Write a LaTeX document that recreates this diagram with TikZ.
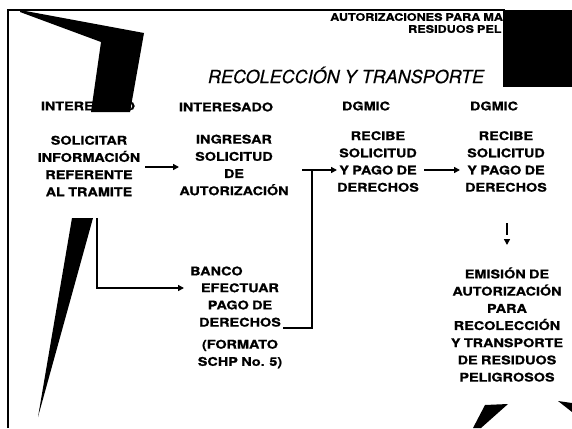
\documentclass[tikz,border=0pt]{standalone}
\usepackage{fontspec}
\usetikzlibrary{arrows.meta}
\newfontfamily\bx[FakeStretch=1.2,FakeBold=0.8,WordSpace=0.85]{TeX Gyre Heros}
\newfontfamily\ttl[FakeBold=0.4]{TeX Gyre Heros}
\tikzset{
  txt/.style={align=center,inner sep=0pt,font=\bx\bfseries\fontsize{12}{17.2}\selectfont},
  hdr/.style={inner sep=0pt,font=\bx\bfseries\fontsize{12}{14}\selectfont},
  top/.style={inner sep=0pt,anchor=west,font=\bx\bfseries\fontsize{10.5}{12}\selectfont},
  ttlst/.style={inner sep=0pt,font=\ttl\itshape\fontsize{18}{20}\selectfont},
  ln/.style={line width=1.6pt},
  arr/.style={line width=1.6pt,-{Triangle[length=6pt,width=6pt]}},
  blot/.style={fill=black,draw=none},
  frame/.style={line width=1.8pt}
}
\begin{document}
\begin{tikzpicture}[x=1pt,y=-1pt]
\useasboundingbox (0,0) rectangle (572,428);
\fill[white] (0,0) rectangle (572,428);
% frame
\coordinate (fb) at (8,428);
\coordinate (fc) at (8,10);
\coordinate (fr) at (505,10);
\draw[frame] (fb) -- (fc) -- (fr);
% header
\node[top] (h1) at (330,17) {AUTORIZACIONES PARA MA};
\node[top] (h2) at (408,29) {RESIDUOS PEL};
\node[ttlst] (title) at (346,75) {RECOLECCIÓN Y TRANSPORTE};
% column heads
\node[hdr] (c1) at (88,106) {INTERESADO};
\node[hdr] (c2) at (226,107) {INTERESADO};
\node[hdr] (c3) at (366,106) {DGMIC};
\node[hdr] (c4) at (494,106) {DGMIC};
% boxes
\node[txt] (b1) at (89,166) {SOLICITAR\\INFORMACIÓN\\REFERENTE\\AL TRAMITE};
\node[txt] (b2) at (234,165) {INGRESAR\\SOLICITUD\\DE\\AUTORIZACIÓN};
\node[txt] (b3) at (378,161.5) {RECIBE\\SOLICITUD\\Y PAGO DE\\DERECHOS};
\node[txt] (b4) at (506,161.5) {RECIBE\\SOLICITUD\\Y PAGO DE\\DERECHOS};
\node[txt] (b5) at (507,324.5) {EMISIÓN DE\\AUTORIZACIÓN\\PARA\\RECOLECCIÓN\\Y TRANSPORTE\\DE RESIDUOS\\PELIGROSOS};
\node[hdr,anchor=west] (bank) at (190,271) {BANCO};
\node[txt] (b6) at (240,305) {EFECTUAR\\PAGO DE\\DERECHOS};
\node[txt] (b7) at (240,354) {(FORMATO\\SCHP No. 5)};
% connectors
\coordinate (a1s) at (145,167);
\coordinate (a1e) at (179,167);
\draw[arr] (a1s) -- (a1e);
\coordinate (a2s) at (302,170);
\coordinate (a2e) at (337,170);
\draw[arr] (a2s) -- (a2e);
\coordinate (jn) at (312,170);
\coordinate (bk) at (283,328);
\draw[ln] (bk) -| (jn);
\coordinate (a3s) at (424,170);
\coordinate (a3e) at (460,170);
\draw[arr] (a3s) -- (a3e);
\coordinate (a4s) at (507,223);
\coordinate (a4e) at (507,245);
\draw[arr,dash pattern=on 12pt off 9pt] (a4s) -- (a4e);
\coordinate (v0) at (97,218);
\coordinate (ve) at (184,288);
\draw[arr] (v0) |- (ve);
% scan blots
\fill[blot] (20,10) -- (144,33) -- (130,112) -- (91,112) -- (101,42) -- (20,12) -- cycle;
\fill[blot] (72,218) -- (93,218) -- (38,417) -- cycle;
\fill[blot] (503,10) rectangle (572,87);
\fill[blot] (485,405) -- (508,404) -- (481,428) -- (473,428) -- cycle;
\fill[blot] (558,401) -- (572,403) -- (572,412) -- cycle;
\end{tikzpicture}
\end{document}
